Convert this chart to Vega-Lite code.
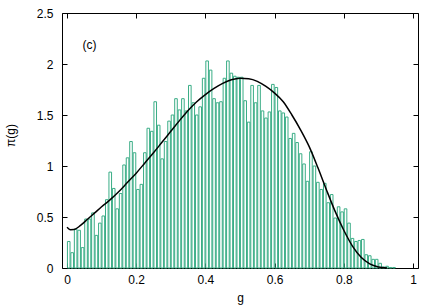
{
  "$schema": "https://vega.github.io/schema/vega-lite/v6.json",
  "width": 356,
  "height": 255,
  "autosize": {"type": "none"},
  "padding": {"left": 62, "top": 13, "right": 22, "bottom": 40},
  "background": "white",
  "config": {
    "view": {"stroke": "black", "strokeWidth": 1},
    "font": "Liberation Sans",
    "axis": {
      "grid": false, "domain": false, "tickColor": "black", "tickSize": -5, "tickWidth": 1,
      "labelFont": "Liberation Sans", "labelFontSize": 12, "labelColor": "black", "format": "~g",
      "titleFont": "Liberation Sans", "titleFontSize": 12, "titleFontWeight": "normal", "titleColor": "black"
    }
  },
  "datasets": {
    "hist": [
      {"g":0.005,"p":0.26},{"g":0.015,"p":0.15},{"g":0.025,"p":0.38},{"g":0.035,"p":0.37},{"g":0.045,"p":0.20},
      {"g":0.055,"p":0.48},{"g":0.065,"p":0.48},{"g":0.075,"p":0.54},{"g":0.085,"p":0.32},{"g":0.095,"p":0.44},
      {"g":0.105,"p":0.51},{"g":0.115,"p":0.67},{"g":0.125,"p":0.94},{"g":0.135,"p":0.78},{"g":0.145,"p":0.58},
      {"g":0.155,"p":0.73},{"g":0.165,"p":1.01},{"g":0.175,"p":1.08},{"g":0.185,"p":1.24},{"g":0.195,"p":1.13},
      {"g":0.205,"p":0.77},{"g":0.215,"p":0.82},{"g":0.225,"p":1.13},{"g":0.235,"p":1.37},{"g":0.245,"p":1.34},
      {"g":0.255,"p":1.63},{"g":0.265,"p":1.40},{"g":0.275,"p":1.07},{"g":0.285,"p":1.24},{"g":0.295,"p":1.44},
      {"g":0.305,"p":1.50},{"g":0.315,"p":1.66},{"g":0.325,"p":1.55},{"g":0.335,"p":1.66},{"g":0.345,"p":1.54},
      {"g":0.355,"p":1.79},{"g":0.365,"p":1.62},{"g":0.375,"p":1.50},{"g":0.385,"p":1.58},{"g":0.395,"p":1.86},
      {"g":0.405,"p":2.03},{"g":0.415,"p":1.94},{"g":0.425,"p":1.66},{"g":0.435,"p":1.62},{"g":0.445,"p":1.63},
      {"g":0.455,"p":1.86},{"g":0.465,"p":2.03},{"g":0.475,"p":1.91},{"g":0.485,"p":1.88},{"g":0.495,"p":1.87},
      {"g":0.505,"p":1.87},{"g":0.515,"p":1.64},{"g":0.525,"p":1.43},{"g":0.535,"p":1.79},{"g":0.545,"p":1.62},
      {"g":0.555,"p":1.79},{"g":0.565,"p":1.54},{"g":0.575,"p":1.47},{"g":0.585,"p":1.53},{"g":0.595,"p":1.80},
      {"g":0.605,"p":1.77},{"g":0.615,"p":1.54},{"g":0.625,"p":1.52},{"g":0.635,"p":1.48},{"g":0.645,"p":1.27},
      {"g":0.655,"p":1.32},{"g":0.665,"p":1.23},{"g":0.675,"p":1.12},{"g":0.685,"p":1.02},{"g":0.695,"p":0.85},
      {"g":0.705,"p":1.14},{"g":0.715,"p":1.00},{"g":0.725,"p":0.84},{"g":0.735,"p":0.77},{"g":0.745,"p":0.83},
      {"g":0.755,"p":0.64},{"g":0.765,"p":0.72},{"g":0.775,"p":0.49},{"g":0.785,"p":0.60},{"g":0.795,"p":0.55},
      {"g":0.805,"p":0.58},{"g":0.815,"p":0.44},{"g":0.825,"p":0.29},{"g":0.835,"p":0.26},{"g":0.845,"p":0.27},
      {"g":0.855,"p":0.28},{"g":0.865,"p":0.13},{"g":0.875,"p":0.12},{"g":0.885,"p":0.085},{"g":0.895,"p":0.085},
      {"g":0.905,"p":0.046},{"g":0.915,"p":0.01},{"g":0.925,"p":0.017},{"g":0.935,"p":0.005},{"g":0.945,"p":0.005}
    ],
    "curve": [
      {"g":0.0,"f":0.40},{"g":0.01,"f":0.376},{"g":0.02,"f":0.377},{"g":0.04,"f":0.42},{"g":0.06,"f":0.48},
      {"g":0.08,"f":0.54},{"g":0.1,"f":0.60},{"g":0.125,"f":0.67},{"g":0.15,"f":0.75},{"g":0.175,"f":0.84},
      {"g":0.2,"f":0.93},{"g":0.225,"f":1.03},{"g":0.25,"f":1.13},{"g":0.275,"f":1.235},{"g":0.3,"f":1.34},
      {"g":0.325,"f":1.445},{"g":0.35,"f":1.545},{"g":0.375,"f":1.63},{"g":0.4,"f":1.70},{"g":0.425,"f":1.76},
      {"g":0.45,"f":1.81},{"g":0.475,"f":1.845},{"g":0.5,"f":1.86},{"g":0.525,"f":1.855},{"g":0.55,"f":1.83},
      {"g":0.575,"f":1.78},{"g":0.6,"f":1.715},{"g":0.625,"f":1.63},{"g":0.65,"f":1.50},{"g":0.675,"f":1.355},
      {"g":0.7,"f":1.19},{"g":0.725,"f":0.985},{"g":0.75,"f":0.765},{"g":0.775,"f":0.555},{"g":0.8,"f":0.37},
      {"g":0.825,"f":0.215},{"g":0.85,"f":0.105},{"g":0.875,"f":0.04},{"g":0.9,"f":0.01},{"g":0.925,"f":0.0}
    ],
    "label": [{"g":0.065,"p":2.19,"t":"(c)"}]
  },
  "resolve": {"axis": {"x": "independent", "y": "independent"}},
  "layer": [
    {
      "data": {"name": "hist"},
      "mark": {"type": "bar", "width": 2.6, "fill": null, "fillOpacity": 0, "stroke": "#3aad86", "strokeWidth": 1},
      "encoding": {
        "x": {"field": "g", "type": "quantitative", "scale": {"domain": [0, 1], "nice": false},
              "axis": {"values": [0, 0.2, 0.4, 0.6, 0.8, 1], "title": "g", "labelPadding": 11, "titleY": 33, "titleBaseline": "alphabetic"}},
        "y": {"field": "p", "type": "quantitative", "scale": {"domain": [0, 2.5], "nice": false},
              "axis": {"values": [0, 0.5, 1, 1.5, 2, 2.5], "title": "π(g)", "labelPadding": 14, "titleX": -48, "titleY": 122, "titleBaseline": "alphabetic"}}
      }
    },
    {
      "data": {"name": "curve"},
      "mark": {"type": "line", "color": "black", "strokeWidth": 1.5, "interpolate": "monotone"},
      "encoding": {
        "x": {"field": "g", "type": "quantitative", "axis": {"orient": "top", "values": [0, 0.2, 0.4, 0.6, 0.8, 1], "labels": false, "title": null}},
        "y": {"field": "f", "type": "quantitative", "axis": {"orient": "right", "values": [0, 0.5, 1, 1.5, 2, 2.5], "labels": false, "title": null}}
      }
    },
    {
      "data": {"name": "label"},
      "mark": {"type": "text", "fontSize": 12, "color": "black", "font": "Liberation Sans"},
      "encoding": {
        "x": {"field": "g", "type": "quantitative", "axis": null},
        "y": {"field": "p", "type": "quantitative", "axis": null},
        "text": {"field": "t"}
      }
    }
  ]
}
